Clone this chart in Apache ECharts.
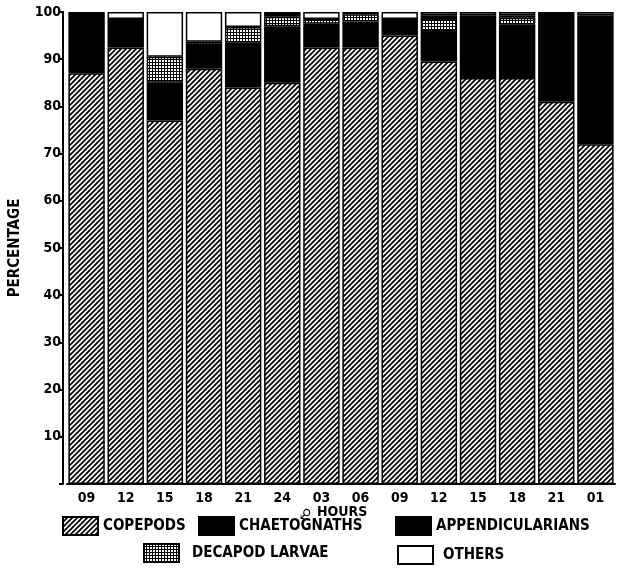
<!DOCTYPE html>
<html>
<head>
<meta charset="utf-8">
<style>
  html, body { margin: 0; padding: 0; background: #fff; }
  #chart { width: 617px; height: 568px; }
</style>
<script src="https://cdn.jsdelivr.net/npm/echarts@6/dist/echarts.min.js"></script>
</head>
<body>
<div id="chart"></div>
<script>
// Sampling times (hours) over the diel series
const hours = ['09', '12', '15', '18', '21', '24', '03', '06', '09', '12', '15', '18', '21', '01'];

// Percentage composition of each sample, bottom to top of every bar
const copepods         = [87, 92.5, 77, 88, 84, 85, 92.5, 92.5, 95, 89.5, 86, 86, 81, 72];
const chaetognaths     = [13, 6, 8, 5, 9.5, 12, 5, 5.5, 3.5, 6.5, 13.3, 11.3, 19, 27.3];
const decapodLarvae    = [0, 0, 5.5, 0.7, 3.3, 2, 1, 1.5, 0, 2.5, 0, 1.5, 0, 0];
const appendicularians = [0, 0, 0, 0, 0, 1, 0, 0.5, 0, 0.8, 0, 0.5, 0, 0];
const others           = [0, 1.5, 9.5, 6.3, 3.2, 0, 1.5, 0, 1.5, 0.7, 0.7, 0.7, 0, 0.7];

const yTicks = [0, 10, 20, 30, 40, 50, 60, 70, 80, 90, 100];

const FONT = '"DejaVu Sans Condensed", "DejaVu Sans", sans-serif';

// Fill patterns: diagonal hatching and a fine stipple grid
function hatchTile() {
  const n = 5;
  const c = document.createElement('canvas');
  c.width = n; c.height = n;
  const g = c.getContext('2d');
  g.fillStyle = '#fff'; g.fillRect(0, 0, n, n);
  g.strokeStyle = '#000'; g.lineWidth = 1.8;
  g.beginPath();
  // lines x + y = 0, n, 2n keep the tile seamless
  for (let k = 0; k <= 2; k++) {
    const s = k * n;
    g.moveTo(s - n - 2, n + 2); g.lineTo(s + n + 2, -n - 2);
  }
  g.stroke();
  return c;
}
function dotTile() {
  const c = document.createElement('canvas');
  c.width = 3; c.height = 3;
  const g = c.getContext('2d');
  g.fillStyle = '#000'; g.fillRect(0, 0, 3, 3);
  g.fillStyle = '#fff'; g.fillRect(0, 0, 2, 2);
  return c;
}

const hatch = { image: hatchTile(), repeat: 'repeat' };
const dots = { image: dotTile(), repeat: 'repeat' };

const noZero = arr => arr.map(v => (v === 0 ? '-' : v));

function layer(name, values, fill) {
  return {
    name: name,
    type: 'bar',
    stack: 'total',
    barCategoryGap: '7%',
    data: noZero(values),
    itemStyle: { color: fill, borderColor: '#000', borderWidth: 1.5 },
    emphasis: { disabled: true }
  };
}

const legendText = { color: '#000', fontFamily: FONT, fontWeight: 'bold', fontSize: 15 };
function legendAt(name, left, top, pad) {
  return {
    data: [name], left: left, top: top, padding: 0,
    itemWidth: 35, itemHeight: 18, icon: 'rect',
    selectedMode: false,
    textStyle: Object.assign({ padding: [0, 0, 0, pad || 0] }, legendText)
  };
}

const chart = echarts.init(document.getElementById('chart'), null, { renderer: 'canvas' });
chart.setOption({
  animation: false,
  backgroundColor: '#fff',
  grid: { left: 58, right: 2, top: 12, bottom: 84 },
  xAxis: {
    type: 'category',
    data: hours,
    axisLine: { lineStyle: { color: '#000', width: 2 } },
    axisTick: { show: false },
    axisLabel: { color: '#000', fontFamily: FONT, fontWeight: 'bold', fontSize: 14, margin: 7 }
  },
  yAxis: {
    type: 'value',
    min: yTicks[0], max: yTicks[yTicks.length - 1], interval: yTicks[1] - yTicks[0],
    offset: 4,
    name: 'PERCENTAGE',
    nameLocation: 'middle',
    nameGap: 40,
    nameTextStyle: { color: '#000', fontFamily: FONT, fontWeight: 'bold', fontSize: 15 },
    axisLine: { show: true, lineStyle: { color: '#000', width: 2 } },
    axisTick: { show: true, length: 4, lineStyle: { color: '#000', width: 2 } },
    splitLine: { show: false },
    axisLabel: {
      color: '#000', fontFamily: FONT, fontWeight: 'bold', fontSize: 14, margin: 2,
      formatter: v => (v === 0 ? '' : String(v))
    }
  },
  legend: [
    legendAt('COPEPODS', 62, 516),
    legendAt('CHAETOGNATHS', 198, 516),
    legendAt('APPENDICULARIANS', 395, 516),
    legendAt('DECAPOD LARVAE', 143, 543, 8),
    legendAt('OTHERS', 397, 545, 5)
  ],
  graphic: [
    {
      type: 'text', left: 300, top: 506, rotation: Math.PI,
      style: { text: '\u2642', fill: '#000', font: 'bold 14px ' + FONT }
    },
    {
      type: 'text', left: 317, top: 505,
      style: { text: 'HOURS', fill: '#000', font: 'bold 14px ' + FONT }
    }
  ],
  series: [
    layer('COPEPODS', copepods, hatch),
    layer('CHAETOGNATHS', chaetognaths, '#000'),
    layer('DECAPOD LARVAE', decapodLarvae, dots),
    layer('APPENDICULARIANS', appendicularians, '#000'),
    layer('OTHERS', others, '#fff')
  ]
});
</script>
</body>
</html>
